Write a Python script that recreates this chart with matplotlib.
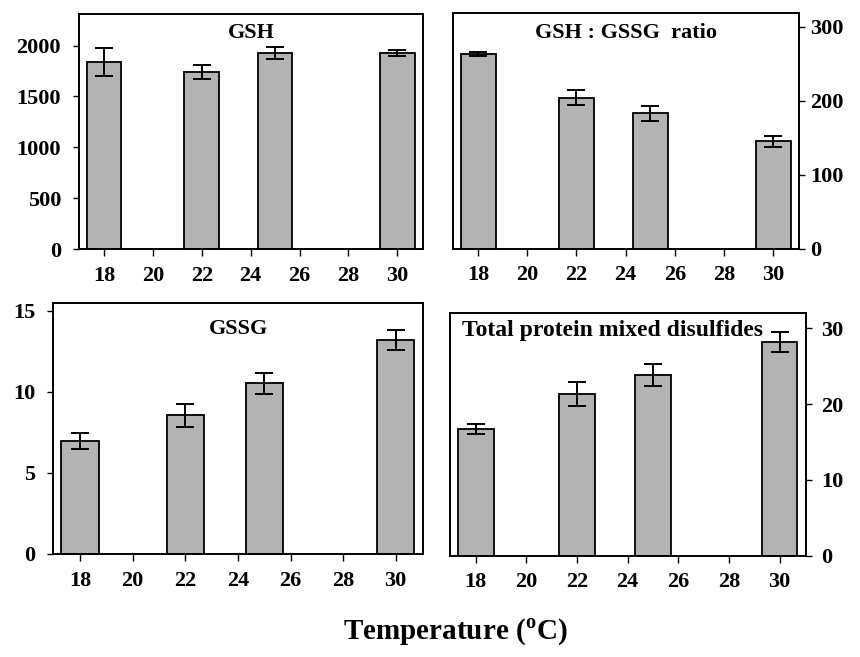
import matplotlib
matplotlib.use('Agg')
import matplotlib.pyplot as plt

plt.rcParams['font.family'] = ['Liberation Serif', 'DejaVu Serif']
plt.rcParams['font.weight'] = 'bold'
plt.rcParams['mathtext.fontset'] = 'custom'
plt.rcParams['mathtext.rm'] = 'Liberation Serif:bold'
plt.rcParams['mathtext.bf'] = 'Liberation Serif:bold'

# temperatures (oC)
temps = [18, 22, 25, 30]
xticks = [18, 20, 22, 24, 26, 28, 30]

# values
gsh = [1839, 1740, 1928, 1924]
gsh_err = [135, 65, 62, 31]

ratio = [263, 204, 183, 145]
ratio_err = [3, 10, 10, 7]

gssg = [6.97, 8.55, 10.52, 13.21]
gssg_err = [0.47, 0.70, 0.65, 0.60]

mixed = [16.7, 21.3, 23.9, 28.2]
mixed_err = [0.7, 1.6, 1.45, 1.35]

fig = plt.figure(figsize=(8.6, 6.57), dpi=100)

panels = [
    # rect, data, err, title, title pos, title size, ylim, yticks, right side, label pad
    ([0.0919, 0.621, 0.400, 0.3577], gsh, gsh_err, 'GSH', (0.5, 0.92, 'center'), 16,
     2310, [0, 500, 1000, 1500, 2000], False, 9),
    ([0.5267, 0.6215, 0.4023, 0.3583], ratio, ratio_err, 'GSH : GSSG  ratio', (0.5, 0.915, 'center'), 16,
     318, [0, 100, 200, 300], True, 4),
    ([0.062, 0.1568, 0.4302, 0.3825], gssg, gssg_err, 'GSSG', (0.5, 0.895, 'center'), 16,
     15.5, [0, 5, 10, 15], False, 9),
    ([0.5233, 0.1542, 0.414, 0.369], mixed, mixed_err, 'Total protein mixed disulfides', (0.035, 0.93, 'left'), 17,
     32, [0, 10, 20, 30], True, 7),
]

for rect, vals, errs, title, tpos, tsize, ytop, yt, right, ypad in panels:
    ax = fig.add_axes(rect)
    ax.bar(temps, vals, width=1.42, color='#b3b3b3', edgecolor='black', linewidth=1.3, zorder=2)
    ax.errorbar(temps, vals, yerr=errs, fmt='none', ecolor='black', elinewidth=1.4,
                capsize=6.5, capthick=1.4, zorder=3)
    ax.set_xlim(16.98, 31.05)
    ax.set_ylim(0, ytop)
    ax.set_xticks(xticks)
    ax.set_yticks(yt)
    for s in ax.spines.values():
        s.set_linewidth(1.4)
    ax.tick_params(axis='x', length=5, width=1, pad=7, labelsize=16)
    ax.tick_params(axis='y', length=4, width=1, pad=ypad, labelsize=16)
    if right:
        ax.yaxis.tick_right()
    ax.text(tpos[0], tpos[1], title, transform=ax.transAxes, ha=tpos[2], va='center',
            fontsize=tsize, fontweight='bold')

fig.text(0.530, 0.038, r'Temperature ($^{\mathbf{o}}$C)', ha='center', va='center',
         fontsize=21, fontweight='bold')

fig.savefig('out.png', dpi=100)
